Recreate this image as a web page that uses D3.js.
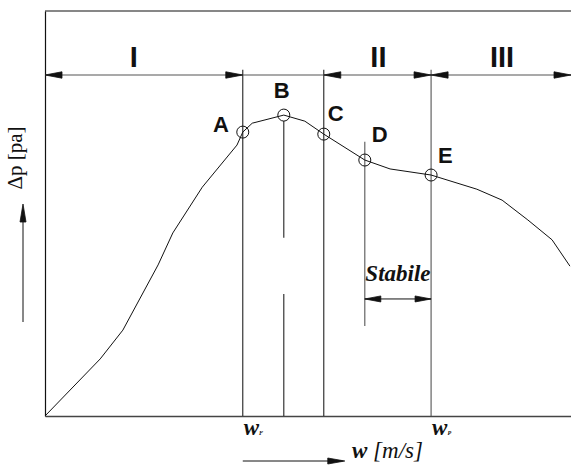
<!DOCTYPE html>
<html>
<head>
<meta charset="utf-8">
<script src="https://cdn.jsdelivr.net/npm/d3@7"></script>
<style>
  html, body { margin: 0; padding: 0; background: #fff; }
  svg { display: block; }
</style>
</head>
<body>
<svg id="chart" width="571" height="466"></svg>
<script>
// Fan characteristic: pressure rise against flow velocity (arbitrary units 0-100)
const flowW = [0, 10.5, 14.8, 21.5, 24.3, 29.9, 36.5, 37.6, 39.4, 45.4, 49.4, 53.0, 60.8, 65.6, 73.4, 82.1, 86.9, 91.8, 96.4, 99.8];
const deltaP = [0, 14.1, 21.2, 37.3, 45.2, 56.5, 66.9, 70.1, 72.3, 74.3, 72.8, 69.6, 63.2, 61.0, 59.5, 56.0, 53.3, 48.4, 43.5, 37.0];

// Marked operating points (index into the curve arrays)
const pointNames = ["A", "B", "C", "D", "E"];
const pointIndex = [7, 9, 11, 12, 14];

// Operating regions along the top
const regionNames = ["I", "II", "III"];
const regionFrom = [0, 53.0, 73.4];
const regionTo = [37.6, 73.4, 100];

const margin = { left: 45, top: 11, right: 0, bottom: 50 };
const W = 571, H = 466;

const svg = d3.select("#chart");
const x = d3.scaleLinear().domain([0, 100]).range([margin.left, W - margin.right]);
const y = d3.scaleLinear().domain([0, 100]).range([H - margin.bottom, margin.top]);

const ink = "#111";

// filled CAD-style arrowhead, tip at (tx,ty), pointing along angle
function arrowHead(g, tx, ty, angle, len = 17, half = 3.2) {
  const a = angle * Math.PI / 180;
  const c = Math.cos(a), s = Math.sin(a);
  const pts = [[0, 0], [-len, -half], [-len, half]].map(([px, py]) => [tx + px * c - py * s, ty + px * s + py * c]);
  g.append("path")
    .attr("d", "M" + pts.map(p => p.join(",")).join("L") + "Z")
    .attr("fill", ink).attr("stroke", ink).attr("stroke-width", 0.8);
}

// Frame: left axis, bottom axis, top border
const axisX = d3.axisBottom(x).tickValues([]).tickSizeOuter(0);
svg.append("g").attr("transform", `translate(0,${y(0)})`).call(axisX)
  .call(g => g.select(".domain").attr("stroke", "#444").attr("stroke-width", 1.6));
const axisY = d3.axisLeft(y).tickValues([]).tickSizeOuter(0);
svg.append("g").attr("transform", `translate(${x(0)},0)`).call(axisY)
  .call(g => g.select(".domain").attr("stroke", ink).attr("stroke-width", 1.2));
svg.append("line")
  .attr("x1", x(0)).attr("x2", x(100)).attr("y1", y(100)).attr("y2", y(100))
  .attr("stroke", ink).attr("stroke-width", 1.2);

// Vertical guide lines through the operating points
const guideTop = 85.5;
const wAt = i => flowW[pointIndex[i]];
const pAt = i => deltaP[pointIndex[i]];
const guides = svg.append("g").attr("stroke", "#222").attr("stroke-width", 1.1);
[0, 2, 4].forEach(i => {
  guides.append("line")
    .attr("x1", x(wAt(i))).attr("x2", x(wAt(i)))
    .attr("y1", y(guideTop)).attr("y2", y(0))
    .attr("stroke", i === 4 ? "#555" : "#222");
});
// B: broken line below the peak
const bGapHi = 44.0, bGapLo = 30.1;
guides.append("line").attr("x1", x(wAt(1))).attr("x2", x(wAt(1)))
  .attr("y1", y(pAt(1)) + 6).attr("y2", y(bGapHi));
guides.append("line").attr("x1", x(wAt(1))).attr("x2", x(wAt(1)))
  .attr("y1", y(bGapLo)).attr("y2", y(0));
// D: short guide bounding the stable zone
const dTop = 67.7, dBottom = 22.2;
guides.append("line").attr("x1", x(wAt(3))).attr("x2", x(wAt(3)))
  .attr("y1", y(dTop)).attr("y2", y(dBottom)).attr("stroke", "#555");

// Characteristic curve
svg.append("path")
  .attr("d", d3.line().x(d => x(d[0])).y(d => y(d[1]))(flowW.map((w, i) => [w, deltaP[i]])))
  .attr("fill", "none").attr("stroke", ink).attr("stroke-width", 1);

// Operating point circles and letters
const labelOffset = [[-14, 0], [-10, -17], [4, -13], [7, -18], [7, -12]];
const anchors = ["end", "start", "start", "start", "start"];
pointNames.forEach((name, i) => {
  svg.append("circle")
    .attr("cx", x(wAt(i))).attr("cy", y(pAt(i))).attr("r", 6)
    .attr("fill", "none").attr("stroke", ink).attr("stroke-width", 1);
  svg.append("text")
    .attr("x", x(wAt(i)) + labelOffset[i][0]).attr("y", y(pAt(i)) + labelOffset[i][1])
    .attr("text-anchor", anchors[i])
    .attr("font-family", "Liberation Sans, Arial, sans-serif")
    .attr("font-weight", "bold").attr("font-size", 22)
    .attr("fill", ink).text(name);
});

// Region dimension arrows
const regionLevel = 84.2;
const rg = svg.append("g");
rg.append("line")
  .attr("x1", x(0)).attr("x2", x(100)).attr("y1", y(regionLevel)).attr("y2", y(regionLevel))
  .attr("stroke", "#555").attr("stroke-width", 1.2);
const regionLabelShift = [-10, 1, 1];
regionNames.forEach((name, i) => {
  arrowHead(rg, x(regionFrom[i]), y(regionLevel), 180);
  arrowHead(rg, x(regionTo[i]), y(regionLevel), 0);
  rg.append("text")
    .attr("x", (x(regionFrom[i]) + x(regionTo[i])) / 2 + regionLabelShift[i])
    .attr("y", y(regionLevel) - 8)
    .attr("text-anchor", "middle")
    .attr("font-family", "Liberation Sans, Arial, sans-serif")
    .attr("font-weight", "bold").attr("font-size", 29)
    .attr("fill", ink).text(name);
});

// Stable zone between D and E
const stableLevel = 28.9;
const sg = svg.append("g");
sg.append("line")
  .attr("x1", x(wAt(3))).attr("x2", x(wAt(4))).attr("y1", y(stableLevel)).attr("y2", y(stableLevel))
  .attr("stroke", ink).attr("stroke-width", 1);
arrowHead(sg, x(wAt(3)), y(stableLevel), 180, 16, 3);
arrowHead(sg, x(wAt(4)), y(stableLevel), 0, 16, 3);
sg.append("text")
  .attr("x", (x(wAt(3)) + x(wAt(4))) / 2).attr("y", y(stableLevel) - 18)
  .attr("text-anchor", "middle")
  .attr("font-family", "Liberation Serif, Times New Roman, serif")
  .attr("font-style", "italic").attr("font-weight", "bold").attr("font-size", 23)
  .attr("fill", ink).text("Stabile");

// Velocity markers under the axis
const markers = [{ i: 0, sub: "F" }, { i: 4, sub: "P" }];
markers.forEach(m => {
  const t = svg.append("text")
    .attr("x", x(wAt(m.i)) + 1).attr("y", y(0) + 19)
    .attr("font-family", "Liberation Serif, Times New Roman, serif")
    .attr("font-style", "italic").attr("font-weight", "bold").attr("font-size", 23)
    .attr("fill", ink);
  t.append("tspan").text("w");
  t.append("tspan").attr("font-size", 6).text(m.sub);
});

// Axis titles with arrows
const xt = svg.append("g");
const xArrowY = H - 5;
xt.append("line").attr("x1", x(wAt(0))).attr("x2", x(wAt(0)) + 100)
  .attr("y1", xArrowY).attr("y2", xArrowY).attr("stroke", ink).attr("stroke-width", 1);
arrowHead(xt, x(wAt(0)) + 102, xArrowY, 0, 17, 3);
const xl = xt.append("text")
  .attr("x", 352).attr("y", H - 8)
  .attr("font-family", "Liberation Serif, Times New Roman, serif")
  .attr("font-style", "italic").attr("font-size", 23).attr("fill", ink);
xl.append("tspan").attr("font-weight", "bold").text("w");
xl.append("tspan").text(" [m/s]");

const yt = svg.append("g");
const yArrowX = 23;
yt.append("line").attr("x1", yArrowX).attr("x2", yArrowX).attr("y1", 322).attr("y2", 210)
  .attr("stroke", ink).attr("stroke-width", 1);
arrowHead(yt, yArrowX, 204, -90, 18, 3);
yt.append("text")
  .attr("transform", `translate(${yArrowX - 1},158) rotate(-90)`)
  .attr("text-anchor", "middle")
  .attr("font-family", "Liberation Serif, Times New Roman, serif")
  .attr("font-size", 21)
  .attr("fill", ink).text("Δp [pa]");
</script>
</body>
</html>
